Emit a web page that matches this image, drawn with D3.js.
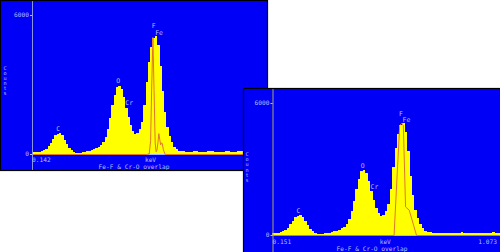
<!DOCTYPE html>
<html><head><meta charset="utf-8">
<script src="https://cdn.jsdelivr.net/npm/d3@7"></script>
<style>html,body{margin:0;padding:0;background:#fff;overflow:hidden} svg{display:block}</style>
</head><body>
<script>
// ---- data ----
const channelStart = 0.14;   // keV, first channel
const channelWidth = 0.01;   // keV per channel
const counts = [
  100,100,100,105,120,160,230,330,480,650,
  800,880,900,800,620,440,280,170,100,60,
  50,55,70,90,110,140,170,200,240,300,
  380,500,750,1100,1550,2100,2550,2900,2950,2800,
  2450,2000,1600,1250,1000,880,900,1100,1400,2100,
  3100,3950,4600,5000,5100,4700,3800,2700,1800,1150,
  780,520,320,200,150,120,
  110,105,100,100,105,110,110,105,100,100,
  105,110,115,110,105,100,95,100,105,110,
  110,105,100,100,110,115,110,105
];
const fineProfileEnergy = [0.140,0.645,0.656,0.662,0.667,0.672,0.677,0.682,0.686,0.690,0.694,0.698,0.702,0.706,0.709,0.713,0.718,0.726,1.070];
const fineProfileCounts = [0,0,30,600,3000,5050,2800,500,120,200,500,900,650,420,500,480,200,0,0];
const broadProfileEnergy = [0.140,0.648,0.671,0.680,0.686,0.695,0.710,0.740,1.080];
const broadProfileCounts = [0,0,5000,5100,5000,1300,1150,0,0];
const peakLabels = ["C","O","Cr","F","Fe"];
const peakLabelEnergy = [0.257,0.520,0.568,0.676,0.699];
const peakLabelCounts = [1080,3150,2190,5510,5225];
const yTickValues = [0, 6000];
const leftDomain = [0.142, 1.181];
const rightDomain = [0.151, 1.073];
const chartTitle = "Fe-F & Cr-O overlap";
const xTitle = "keV";
const yTitle = "Counts";

// ---- layout ----
const W = 500, H = 252;
const FONT = "'DejaVu Sans Mono', monospace";
const TXT = "#b4bcff";
const svg = d3.select("body").append("svg").attr("width", W).attr("height", H);
svg.append("rect").attr("width", W).attr("height", H).attr("fill", "#fff");

const channels = counts.map((c, i) => ({e: channelStart + i * channelWidth, c}));

function drawPanel(p) {
  const g = svg.append("g");
  const clipId = "clip" + p.id;
  g.append("clipPath").attr("id", clipId).append("rect")
    .attr("x", p.x).attr("y", p.y).attr("width", p.w).attr("height", p.h);
  g.append("rect").attr("x", p.x).attr("y", p.y).attr("width", p.w).attr("height", p.h)
    .attr("fill", "#0000f6");
  const inner = g.append("g").attr("clip-path", `url(#${clipId})`);
  const x = d3.scaleLinear().domain(p.domain).range([p.plotLeft, p.plotRight]);
  const y = d3.scaleLinear().domain([0, 6000]).range([p.baseY, p.topY]);
  const plotClip = "pclip" + p.id;
  g.append("clipPath").attr("id", plotClip).append("rect")
    .attr("x", p.plotLeft).attr("y", p.y).attr("width", p.x + p.w - p.plotLeft).attr("height", p.h);
  const plot = inner.append("g").attr("clip-path", `url(#${plotClip})`);
  // histogram
  plot.selectAll("rect.bar").data(channels).join("rect").attr("class", "bar")
    .attr("x", d => x(d.e)).attr("width", d => x(d.e + channelWidth) - x(d.e) + 0.3)
    .attr("y", d => y(d.c)).attr("height", d => y(0) - y(d.c))
    .attr("fill", "#ffff00").attr("shape-rendering", "crispEdges");
  // x axis line
  plot.append("line").attr("x1", p.plotLeft).attr("x2", p.x + p.w)
    .attr("y1", y(0) + 0.5).attr("y2", y(0) + 0.5).attr("stroke", "#a8b4ff").attr("stroke-width", 1);
  // overlay profile
  const prof = p.profE.map((e, i) => [e, p.profC[i]]);
  plot.append("path").datum(prof)
    .attr("d", d3.line().x(d => x(d[0])).y(d => y(d[1]) + 0.5))
    .attr("fill", "none").attr("stroke", "#e0782a").attr("stroke-width", 1);
  // y axis line
  inner.append("line").attr("x1", p.plotLeft + 0.5).attr("x2", p.plotLeft + 0.5)
    .attr("y1", p.y).attr("y2", p.y + p.h).attr("stroke", p.axisColor).attr("stroke-width", 1);
  // y ticks
  yTickValues.forEach(v => {
    inner.append("line").attr("x1", p.plotLeft - 2).attr("x2", p.plotLeft)
      .attr("y1", y(v) + 0.5).attr("y2", y(v) + 0.5).attr("stroke", TXT);
    inner.append("text").attr("x", p.plotLeft - 3).attr("y", y(v) + 2)
      .attr("text-anchor", "end").attr("font-family", FONT).attr("font-size", 6.2)
      .attr("fill", TXT).text(v);
  });
  // x tick labels
  const xl = p.domain.map(v => d3.format(".3f")(v));
  inner.append("text").attr("x", p.plotLeft).attr("y", p.tickLabelY)
    .attr("font-family", FONT).attr("font-size", 6.2).attr("fill", TXT).text(xl[0]);
  inner.append("text").attr("x", p.plotRight - 1).attr("y", p.tickLabelY).attr("text-anchor", "end")
    .attr("font-family", FONT).attr("font-size", 6.2).attr("fill", TXT).text(xl[1]);
  inner.append("text").attr("x", (p.plotLeft + p.plotRight) / 2).attr("y", p.tickLabelY)
    .attr("text-anchor", "middle").attr("font-family", FONT).attr("font-size", 6.2).attr("fill", TXT).text(xTitle);
  inner.append("text").attr("x", p.titleX).attr("y", p.titleY)
    .attr("text-anchor", "middle").attr("font-family", FONT).attr("font-size", 6.2).attr("fill", TXT).text(chartTitle);
  // vertical Counts
  inner.selectAll("text.yt").data(yTitle.split("")).join("text").attr("class", "yt")
    .attr("x", p.countsX).attr("y", (d, i) => p.countsY + i * p.countsStep)
    .attr("text-anchor", "middle").attr("font-family", FONT).attr("font-size", 5.2)
    .attr("fill", TXT).text(d => d);
  // peak labels
  inner.selectAll("text.pk").data(peakLabels).join("text").attr("class", "pk")
    .attr("x", (d, i) => x(peakLabelEnergy[i])).attr("y", (d, i) => y(peakLabelCounts[i]) + 2)
    .attr("text-anchor", "middle").attr("font-family", FONT).attr("font-size", 6.5)
    .attr("fill", TXT).text(d => d);
  // border
  g.append("rect").attr("x", p.x + 0.5).attr("y", p.y + 0.5).attr("width", p.w).attr("height", p.h)
    .attr("fill", "none").attr("stroke", "#000").attr("stroke-width", 1.2);
}

drawPanel({id: "L", x: 0, y: 0, w: 267, h: 170, domain: leftDomain,
  plotLeft: 32, plotRight: 269, baseY: 154, topY: 15, axisColor: "#8a94d8",
  tickLabelY: 162, titleX: 134, titleY: 168.5, countsX: 5, countsY: 70, countsStep: 5,
  profE: fineProfileEnergy, profC: fineProfileCounts});
drawPanel({id: "R", x: 243, y: 88, w: 262, h: 170, domain: rightDomain,
  plotLeft: 272.5, plotRight: 498, baseY: 235, topY: 103, axisColor: "#a8aa5c",
  tickLabelY: 244, titleX: 372, titleY: 250.5, countsX: 247, countsY: 156, countsStep: 5.2,
  profE: broadProfileEnergy, profC: broadProfileCounts});
</script>
</body></html>
